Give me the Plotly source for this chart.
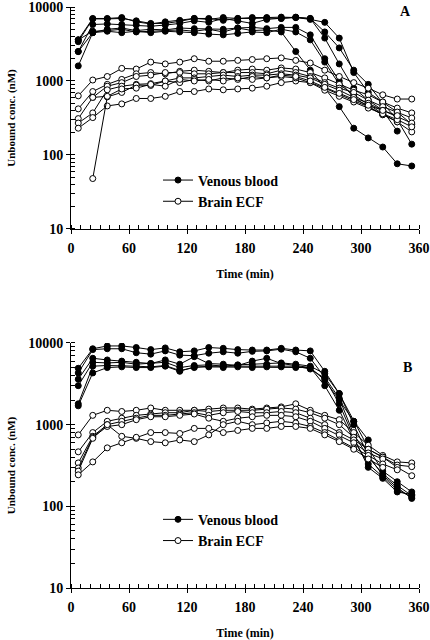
import plotly.graph_objects as go

TIMES = [7.5, 22.5, 37.5, 52.5, 67.5, 82.5, 97.5, 112.5, 127.5, 142.5, 157.5, 172.5,
         187.5, 202.5, 217.5, 232.5, 247.5, 262.5, 277.5, 292.5, 307.5, 322.5, 337.5, 352.5]

# Panel A - venous blood (nM)
blood_a1 = [3600, 7000, 7000, 7200, 6300, 5900, 6300, 6600, 7000, 7000, 6600, 7000, 7200, 7200, 7300, 7200, 7000, 4600, 2800, 1400, 900, 500, 300, 140]
blood_a2 = [2500, 5800, 5900, 5800, 5700, 5500, 5700, 6000, 6500, 6200, 7000, 6500, 6000, 6800, 7000, 7300, 7000, 3800, 1700, 800, 550, 400, 210, None]
blood_a3 = [1600, 4500, 5000, 5200, 4800, 5000, 4900, 5200, 5100, 5000, 5000, 5200, 4800, 4900, 4600, 2500, 1400, 800, 450, 230, 170, 128, 76, 71]
blood_a4 = [3600, 4700, 4800, 5000, 4600, 4700, 4800, 4900, 4700, 5000, 4600, 5200, 5300, 5100, 5300, 5300, 4200, 2000, 1000, 600, 450, 350, None, None]
blood_a5 = [2500, 4500, 4700, 4500, 4700, 4500, 4700, 4600, 4500, 4300, 4200, 4400, 4600, 4500, 5000, 4600, 3600, 1800, 900, 650, 480, 360, 280, None]
blood_a6 = [3400, 6900, 6900, 7000, 6500, 6000, 6000, 6400, 7000, 6800, 7200, 7000, 7000, 7100, 7000, 7200, 6800, 6200, 3800, 1300, 700, 520, 380, 260]

# Panel A - brain ECF (nM)
ecf_a1 = [630, 1030, 1150, 1480, 1450, 1800, 1700, 1800, 2000, 1850, 1850, 1900, 1950, 2000, 2050, 1900, 1750, 1400, 1150, 950, 800, 650, 570, 570]
ecf_a2 = [420, 720, 900, 1050, 1250, 1300, 1250, 1350, 1400, 1350, 1300, 1400, 1450, 1400, 1500, 1450, 1300, 1100, 900, 750, 650, 520, 430, 370]
ecf_a3 = [310, 600, 850, 950, 1150, 1200, 1300, 1300, 1250, 1250, 1300, 1300, 1300, 1250, 1400, 1300, 1150, 950, 800, 700, 550, 450, 380, 316]
ecf_a4 = [270, 370, 760, 850, 900, 920, 1000, 1100, 1100, 1150, 1200, 1150, 1200, 1200, 1250, 1200, 1100, 900, 750, 600, 500, 400, 330, 270]
ecf_a5 = [230, 320, 460, 490, 580, 580, 620, 720, 720, 780, 760, 780, 800, 850, 950, 1000, 950, 800, 650, 540, 450, 350, 280, 205]
ecf_a6 = [None, 48, 610, 700, 880, 870, 1000, 950, 1050, 1000, 1100, 1050, 1150, 1100, 1150, 1100, 950, 750, 620, 520, 430, 360, 300, 240]
ecf_a7 = [None, 600, 620, 780, 800, 900, 850, 1050, 1000, 1050, 1000, 1100, 1050, 1100, 1200, 1150, 1000, 820, 680, 560, 470, 400, 340, None]

# Panel B - venous blood (nM)
blood_b1 = [4900, 8500, 9200, 9200, 8800, 8300, 8700, 7800, 8000, 8800, 8600, 8300, 8200, 8200, 8600, 8200, 8000, 4500, 2400, 1100, 520, 270, 200, 150]
blood_b2 = [4300, 8300, 8500, 8500, 7600, 7300, 8000, 7100, 7000, 7500, 7800, 7500, 7900, 8000, 8400, 7800, 6500, 3800, 2100, 760, 400, 250, 180, 135]
blood_b3 = [3600, 6500, 6200, 6000, 5800, 5600, 6200, 5500, 6800, 5600, 5500, 5300, 6000, 6500, 5600, 5300, 5000, 3500, 2000, 1100, 650, None, None, None]
blood_b4 = [3000, 5800, 5700, 5800, 5500, 5600, 5800, 5000, 5300, 5400, 5200, 5400, 5500, 5500, 5700, 5500, 5200, 4200, 2400, 1000, 420, 240, 170, 125]
blood_b5 = [1800, 5200, 5300, 5300, 5200, 5100, 5300, 4600, 5000, 5200, 5200, 5300, 5200, 5300, 5300, 5200, 4800, 3700, 1800, 700, 300, 220, 150, 140]
blood_b6 = [1700, 4300, 5000, 5100, 5000, 5000, 5200, 4500, 5100, 5100, 5000, 5100, 5000, 5100, 5100, 5000, 5000, 3000, 1500, 650, 330, 230, 160, 130]

# Panel B - brain ECF (nM)
ecf_b1 = [750, 1300, 1500, 1450, 1500, 1600, 1500, 1500, 1500, 1550, 1600, 1600, 1550, 1600, 1650, 1800, 1500, 1300, 1150, 800, 560, 420, 350, 340]
ecf_b2 = [465, 800, 1100, 1200, 1300, 1350, 1400, 1400, 1500, 1450, 1500, 1500, 1500, 1550, 1600, 1550, 1400, 1200, 1000, 700, 500, 400, 320, 306]
ecf_b3 = [340, 720, 1000, 1100, 1200, 1300, 1300, 1350, 1400, 1300, 1400, 1450, 1400, 1400, 1450, 1400, 1200, 1000, 800, 650, 500, 400, 300, 237]
ecf_b4 = [295, 700, 950, 1000, 1150, 1250, 1250, 1300, 1350, 1200, 1100, 1200, 1250, 1300, 1300, 1250, 1100, 900, 750, 600, 450, 380, None, None]
ecf_b5 = [270, 680, 1000, 720, 680, 620, 600, 650, 620, 750, 1000, 1100, 1000, 1050, 1100, 1050, 950, 800, 650, 520, 420, 330, 280, None]
ecf_b6 = [243, 350, 520, 600, 700, 800, 800, 780, 900, 900, 800, 850, 900, 900, 950, 950, 900, 750, 620, 500, 380, 300, None, None]

PANEL_A_BLOOD = [blood_a1, blood_a2, blood_a3, blood_a4, blood_a5, blood_a6]
PANEL_A_ECF = [ecf_a1, ecf_a2, ecf_a3, ecf_a4, ecf_a5, ecf_a6, ecf_a7]
PANEL_B_BLOOD = [blood_b1, blood_b2, blood_b3, blood_b4, blood_b5, blood_b6]
PANEL_B_ECF = [ecf_b1, ecf_b2, ecf_b3, ecf_b4, ecf_b5, ecf_b6]

X_TICKS = [0, 60, 120, 180, 240, 300, 360]
Y_TICKS = [10, 100, 1000, 10000]
Y_TICK_TEXT = ["10", "100", "1000", "10000"]

SERIF = "Liberation Serif"
fig = go.Figure()


def add_series(data, filled, xaxis, yaxis, legend, name, show_first):
    for i, ys in enumerate(data):
        fig.add_trace(go.Scatter(
            x=TIMES, y=ys, mode="lines+markers",
            xaxis=xaxis, yaxis=yaxis,
            name=name, legendgroup=name + legend, legend=legend,
            showlegend=(show_first and i == 0),
            connectgaps=False,
            line=dict(color="black", width=1),
            marker=dict(symbol="circle", size=6,
                        color="black" if filled else "white",
                        line=dict(color="black", width=1)),
        ))


add_series(PANEL_A_BLOOD, True, "x", "y", "legend", "Venous blood", True)
add_series(PANEL_A_ECF, False, "x", "y", "legend", "Brain ECF", True)
add_series(PANEL_B_BLOOD, True, "x2", "y2", "legend2", "Venous blood", True)
add_series(PANEL_B_ECF, False, "x2", "y2", "legend2", "Brain ECF", True)

xaxis_common = dict(
    range=[0, 360], tickvals=X_TICKS, showgrid=False, zeroline=False,
    showline=True, linecolor="black", linewidth=1, automargin=False,
    ticks="outside", ticklen=4, tickcolor="black", ticklabeloverflow="allow",
    minor=dict(dtick=10, ticks="inside", ticklen=4, tickcolor="black", showgrid=False),
    tickfont=dict(family=SERIF, size=14, color="black", weight="bold"),
    ticklabelstandoff=2,
    title=dict(text="Time (min)", standoff=14,
               font=dict(family=SERIF, size=12, color="black", weight="bold")),
)
yaxis_common = dict(
    type="log", range=[1, 4], tickvals=Y_TICKS, ticktext=Y_TICK_TEXT,
    showgrid=False, zeroline=False, showline=True, linecolor="black", linewidth=1,
    automargin=False, ticklabeloverflow="allow",
    ticks="outside", ticklen=4, tickcolor="black",
    minor=dict(dtick="D1", ticks="inside", ticklen=4, tickcolor="black", showgrid=False),
    tickfont=dict(family=SERIF, size=14, color="black", weight="bold"),
    title=dict(text="Unbound conc. (nM)", standoff=10,
               font=dict(family=SERIF, size=11, color="black", weight="bold")),
)

fig.update_layout(
    width=430, height=640,
    margin=dict(l=71, r=11, t=7, b=52),
    paper_bgcolor="white", plot_bgcolor="white",
    font=dict(family=SERIF, color="black"),
    xaxis=dict(domain=[0, 1], anchor="y", **xaxis_common),
    yaxis=dict(domain=[0.618, 1.0], anchor="x", **yaxis_common),
    xaxis2=dict(domain=[0, 1], anchor="y2", **xaxis_common),
    yaxis2=dict(domain=[0.0, 0.4217], anchor="x2", **yaxis_common),
    legend=dict(x=0.25, y=0.729, xanchor="left", yanchor="top",
                bgcolor="rgba(0,0,0,0)", itemwidth=30, tracegroupgap=0,
                font=dict(family=SERIF, size=14, color="black", weight="bold")),
    legend2=dict(x=0.25, y=0.145, xanchor="left", yanchor="top",
                 bgcolor="rgba(0,0,0,0)", itemwidth=30, tracegroupgap=0,
                 font=dict(family=SERIF, size=14, color="black", weight="bold")),
    annotations=[
        dict(text="A", x=0.96, y=0.993, xref="paper", yref="paper", showarrow=False,
             xanchor="center", yanchor="middle",
             font=dict(family=SERIF, size=14, color="black", weight="bold")),
        dict(text="B", x=0.968, y=0.380, xref="paper", yref="paper", showarrow=False,
             xanchor="center", yanchor="middle",
             font=dict(family=SERIF, size=14, color="black", weight="bold")),
    ],
)

# Remove the default 8px page-body margin so the 430x640 figure fills the window exactly.
fig.write_html("out.html", config={"displayModeBar": False},
               post_script="document.body.style.margin='0';")
